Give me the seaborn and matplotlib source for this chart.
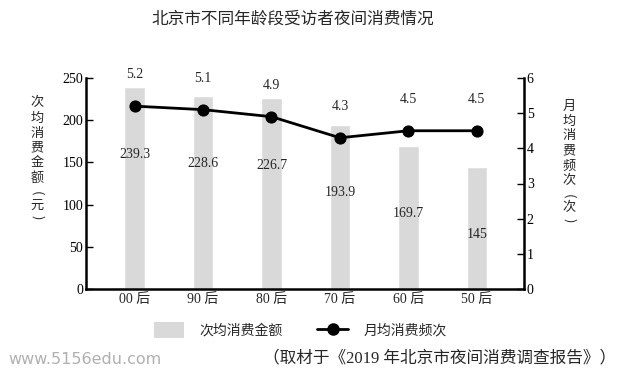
import matplotlib
matplotlib.use("Agg")
import matplotlib.pyplot as plt
import seaborn as sns
import pandas as pd
from matplotlib.patches import Patch
from matplotlib.lines import Line2D

categories = ["00后", "90后", "80后", "70后", "60后", "50后"]
tick_labels = ["00 后", "90 后", "80 后", "70 后", "60 后", "50 后"]
amount = [239.3, 228.6, 226.7, 193.9, 169.7, 145]
frequency = [5.2, 5.1, 4.9, 4.3, 4.5, 4.5]

sns.set_theme(style="white")
FAM = ["Liberation Serif", "Noto Sans CJK SC", "DejaVu Sans"]
plt.rcParams["font.family"] = FAM

df = pd.DataFrame({"cat": categories, "amount": amount, "freq": frequency})

W, H = 624, 378
fig = plt.figure(figsize=(W / 100, H / 100), dpi=100)
ax = fig.add_axes([86 / W, 1 - 289 / H, (524 - 86) / W, (289 - 78) / H])

sns.barplot(data=df, x="cat", y="amount", color="#d9d9d9", saturation=1,
            width=0.3, ax=ax)
ax.set_xlim(-0.71, 5.69)
ax.set_ylim(0, 250)
ax.set_yticks([0, 50, 100, 150, 200, 250])
ax.set_xticks(range(len(tick_labels)))
ax.set_xticklabels(tick_labels, fontsize=10)
ax.set_xlabel("")
ax.set_ylabel("")
ax.tick_params(axis="y", direction="in", length=5, width=1, labelsize=10,
               left=True, pad=2, colors="black")
ax.tick_params(axis="x", length=0, pad=3, labelsize=10)
for s in ["top", "right"]:
    ax.spines[s].set_visible(False)
for s in ["left", "bottom"]:
    ax.spines[s].set_color("black")
    ax.spines[s].set_linewidth(1.8)

for i, v in enumerate(amount):
    ax.text(i, v - 80, f"{v:g}", ha="center", va="center", fontsize=10)

ax2 = ax.twinx()
sns.lineplot(data=df, x="cat", y="freq", sort=False, color="black",
             linewidth=2, marker="o", markersize=8, markeredgecolor="black",
             ax=ax2)
ax2.set_ylim(0, 6)
ax2.set_yticks(range(7))
ax2.set_ylabel("")
ax2.tick_params(axis="y", direction="in", length=5, width=1, labelsize=10,
                right=True, pad=2, colors="black")
for s in ["top", "left", "bottom"]:
    ax2.spines[s].set_visible(False)
ax2.spines["right"].set_color("black")
ax2.spines["right"].set_linewidth(1.8)

for i, v in enumerate(frequency):
    ax2.text(i, v + 0.9, f"{v:g}", ha="center", va="center", fontsize=10)

fig.text(293 / W, 1 - 20 / H, "北京市不同年龄段受访者夜间消费情况",
         ha="center", va="center", fontsize=12)

# vertical axis titles, one character per row; brackets drawn rotated
left_chars = list("次均消费金额") + ["(", "元", ")"]
right_chars = list("月均消费频次") + ["(", "次", ")"]
rows = [103, 118, 133, 148, 163, 178, 193, 205, 217]
for x0, chars, dy in [(37, left_chars, 0), (569, right_chars, 3)]:
    for ch, y in zip(chars, rows):
        rot = -90 if ch in "()" else 0
        fig.text(x0 / W, 1 - (y + dy) / H, ch, ha="center", va="center",
                 fontsize=9.5, rotation=rot, family=["Noto Sans CJK SC"])

handles = [Patch(facecolor="#d9d9d9", edgecolor="none"),
           Line2D([0], [0], color="black", lw=2, marker="o", markersize=8)]
fig.legend(handles, ["次均消费金额", "月均消费频次"], loc="center",
           bbox_to_anchor=(300 / W, 1 - 330 / H), ncol=2, frameon=False,
           fontsize=10, handlelength=2.2, handleheight=1.3, columnspacing=2.5,
           handletextpad=1.1)

fig.text(8 / W, 1 - 360 / H, "www.5156edu.com", ha="left", va="center",
         fontsize=11.5, color="#b0b0b0", family=["DejaVu Sans"])
fig.text(616 / W, 1 - 358 / H, "（取材于《2019 年北京市夜间消费调查报告》）",
         ha="right", va="center", fontsize=12)

fig.savefig("out.png", dpi=100)
